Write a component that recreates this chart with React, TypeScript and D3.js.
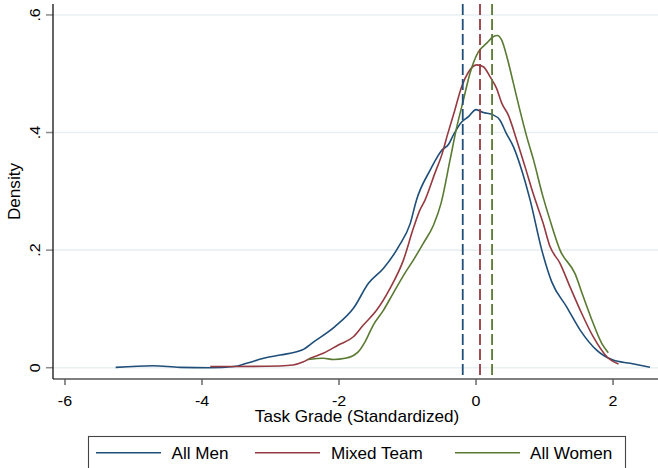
import React from "react";
import * as d3 from "d3";

const xTicks = [-6, -4, -2, 0, 2];
const xTickLabels = ["-6", "-4", "-2", "0", "2"];
const yTicks = [0, 0.2, 0.4, 0.6];
const yTickLabels = ["0", ".2", ".4", ".6"];

const seriesNames = ["All Men", "Mixed Team", "All Women"];
const seriesColors = ["#1f4e79", "#943a40", "#5a7a33"];
const seriesMeans = [-0.194, 0.058, 0.234];

const menX = [-5.26, -4.71, -4.32, -3.88, -3.53, -3.35, -3.1, -2.86, -2.54, -2.37, -2.06, -1.79, -1.57, -1.35, -1.13, -0.96, -0.87, -0.67, -0.5, -0.4, -0.33, -0.21, -0.11, 0, 0.107, 0.23, 0.35, 0.44, 0.545, 0.667, 0.79, 0.96, 1.105, 1.32, 1.52, 1.76, 2.0, 2.25, 2.54];
const menY = [0.0005, 0.0034, 0.0005, 0.0, 0.002, 0.0075, 0.016, 0.0216, 0.03, 0.044, 0.07, 0.101, 0.1435, 0.169, 0.206, 0.2455, 0.285, 0.336, 0.37, 0.38, 0.396, 0.418, 0.427, 0.439, 0.434, 0.431, 0.421, 0.399, 0.376, 0.336, 0.285, 0.2, 0.146, 0.104, 0.064, 0.03, 0.013, 0.0075, 0.0007];

const mixedX = [-3.88, -3.55, -2.86, -2.67, -2.52, -2.42, -2.23, -2.01, -1.79, -1.645, -1.45, -1.255, -1.06, -0.915, -0.82, -0.745, -0.6, -0.5, -0.41, -0.31, -0.21, -0.11, 0.01, 0.107, 0.204, 0.3, 0.375, 0.47, 0.594, 0.715, 0.84, 0.98, 1.08, 1.226, 1.37, 1.52, 1.71, 1.91, 2.08];
const mixedY = [0.002, 0.002, 0.003, 0.0046, 0.01, 0.016, 0.0245, 0.0386, 0.0527, 0.0726, 0.098, 0.135, 0.183, 0.237, 0.268, 0.285, 0.331, 0.362, 0.399, 0.438, 0.478, 0.503, 0.515, 0.512, 0.495, 0.475, 0.45, 0.43, 0.387, 0.342, 0.294, 0.2456, 0.206, 0.1776, 0.138, 0.098, 0.0527, 0.0187, 0.0063];

const womenX = [-2.45, -2.23, -2.08, -1.91, -1.72, -1.62, -1.5, -1.35, -1.21, -1.04, -0.915, -0.77, -0.62, -0.51, -0.38, -0.28, -0.185, -0.09, 0.034, 0.156, 0.25, 0.31, 0.375, 0.45, 0.545, 0.64, 0.74, 0.84, 0.97, 1.08, 1.226, 1.445, 1.565, 1.71, 1.835, 1.93];
const womenY = [0.014, 0.016, 0.014, 0.016, 0.027, 0.044, 0.0726, 0.098, 0.1265, 0.1605, 0.183, 0.2115, 0.2427, 0.28, 0.353, 0.41, 0.455, 0.5, 0.537, 0.552, 0.563, 0.565, 0.557, 0.529, 0.484, 0.438, 0.393, 0.353, 0.294, 0.251, 0.2, 0.16, 0.121, 0.0755, 0.0415, 0.0255];

const seriesXs = [menX, mixedX, womenX];
const seriesYs = [menY, mixedY, womenY];

const FONT = "'Liberation Sans', Arial, Helvetica, sans-serif";
const SX = 1.07;

export default function App() {
  const W = 658;
  const H = 468;
  const left = 53;
  const right = 661;
  const top = 4;
  const bottom = 379;

  const x = d3.scaleLinear().domain([-6.175, 2.7]).range([left, right]);
  const y = d3.scaleLinear().domain([-0.0192, 0.6186]).range([bottom, top]);

  const line = d3
    .line<[number, number]>()
    .x((d) => x(d[0]))
    .y((d) => y(d[1]))
    .curve(d3.curveMonotoneX);

  const legendItems = [
    { lx1: 96, lx2: 161, tx: 171.5 },
    { lx1: 255, lx2: 320, tx: 331 },
    { lx1: 455, lx2: 520, tx: 530 },
  ];

  return (
    <svg
      width={W}
      height={H}
      style={{ position: "absolute", left: 0, top: 0, background: "#fff" }}
      fontFamily={FONT}
    >
      <rect x={0} y={0} width={W} height={H} fill="#fff" />
      {/* gridlines */}
      {yTicks.map((t) => (
        <line key={"g" + t} x1={left} x2={W} y1={y(t)} y2={y(t)} stroke="#e9f0f2" strokeWidth={1.6} />
      ))}
      {/* y ticks */}
      {yTicks.map((t, i) => (
        <g key={"yt" + t}>
          <line x1={left - 7} x2={left} y1={y(t)} y2={y(t)} stroke="#8a8a8a" strokeWidth={1.5} />
          <text
            transform={`translate(${40},${y(t)}) rotate(-90) scale(${SX},1)`}
            textAnchor="middle"
            fontSize={15}
            fill="#000"
          >
            {yTickLabels[i]}
          </text>
        </g>
      ))}
      <text
        transform={`translate(${20},${(top + bottom) / 2}) rotate(-90) scale(${SX},1)`}
        textAnchor="middle"
        fontSize={16}
        fill="#000"
      >
        Density
      </text>
      {/* x ticks */}
      {xTicks.map((t, i) => (
        <g key={"xt" + t}>
          <line x1={x(t)} x2={x(t)} y1={bottom} y2={bottom + 6} stroke="#444" strokeWidth={1.2} />
          <text
            transform={`translate(${x(t)},${405.5}) scale(${SX},1)`}
            textAnchor="middle"
            fontSize={15}
            fill="#000"
          >
            {xTickLabels[i]}
          </text>
        </g>
      ))}
      <text
        transform={`translate(${(left + right) / 2},${422.3}) scale(${SX},1)`}
        textAnchor="middle"
        fontSize={16}
        fill="#000"
      >
        Task Grade (Standardized)
      </text>
      {/* density curves */}
      {seriesXs.map((xs, i) => {
        const pts: [number, number][] = xs.map((v, j) => [v, seriesYs[i][j]]);
        return (
          <path key={"c" + i} d={line(pts) || ""} fill="none" stroke={seriesColors[i]} strokeWidth={1.6} strokeLinejoin="round" />
        );
      })}
      {/* mean lines */}
      {seriesMeans.map((m, i) => (
        <line
          key={"m" + i}
          x1={x(m)}
          x2={x(m)}
          y1={top}
          y2={bottom}
          stroke={seriesColors[i]}
          strokeWidth={1.8}
          strokeDasharray="11,4"
        />
      ))}
      {/* axes */}
      <line x1={left} x2={W} y1={bottom} y2={bottom} stroke="#555" strokeWidth={1.4} />
      <line x1={left} x2={left} y1={top} y2={bottom} stroke="#111" strokeWidth={1.3} />
      {/* legend */}
      <rect x={88.5} y={436.5} width={537} height={50} fill="#fff" stroke="#444" strokeWidth={1.1} />
      {seriesNames.map((name, i) => (
        <g key={"l" + i}>
          <line x1={legendItems[i].lx1} x2={legendItems[i].lx2} y1={452.7} y2={452.7} stroke={seriesColors[i]} strokeWidth={1.6} />
          <text transform={`translate(${legendItems[i].tx},${459}) scale(${SX},1)`} fontSize={16} fill="#000">
            {name}
          </text>
        </g>
      ))}
    </svg>
  );
}
